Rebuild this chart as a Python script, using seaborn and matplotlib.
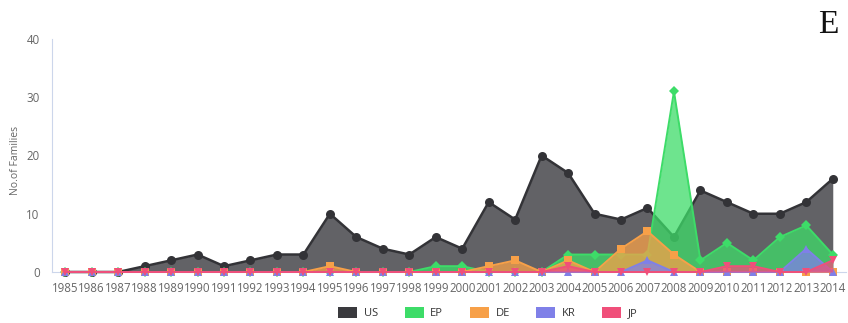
import matplotlib
matplotlib.use("Agg")
import matplotlib.pyplot as plt
from matplotlib.patches import Patch
import seaborn as sns
import pandas as pd

years = list(range(1985, 2015))
US = [0, 0, 0, 1, 2, 3, 1, 2, 3, 3, 10, 6, 4, 3, 6, 4, 12, 9, 20, 17, 10, 9, 11, 6, 14, 12, 10, 10, 12, 16]
EP = [0, 0, 0, 0, 0, 0, 0, 0, 0, 0, 0, 0, 0, 0, 1, 1, 0, 0, 0, 3, 3, 3, 3, 31, 2, 5, 2, 6, 8, 3]
DE = [0, 0, 0, 0, 0, 0, 0, 0, 0, 0, 1, 0, 0, 0, 0, 0, 1, 2, 0, 2, 0, 4, 7, 3, 0, 0, 0, 0, 0, 0]
KR = [0, 0, 0, 0, 0, 0, 0, 0, 0, 0, 0, 0, 0, 0, 0, 0, 0, 0, 0, 0, 0, 0, 2, 0, 0, 0, 0, 0, 4, 0]
JP = [0, 0, 0, 0, 0, 0, 0, 0, 0, 0, 0, 0, 0, 0, 0, 0, 0, 0, 0, 1, 0, 0, 0, 0, 0, 1, 1, 0, 0, 2]
series_names = ["US", "EP", "DE", "KR", "JP"]
series_values = [US, EP, DE, KR, JP]
y_ticks = [0, 10, 20, 30, 40]

colors = {"US": "#2e2e33", "EP": "#3ddc68", "DE": "#f7a048", "KR": "#7f80e8", "JP": "#f04f7a"}
line_colors = {"US": "#333337", "EP": "#3ddc68", "DE": "#f7a048", "KR": "#7f80e8", "JP": "#f04f7a"}
markers = {"US": "o", "EP": "D", "DE": "s", "KR": "^", "JP": "v"}

sns.set_style("white")
plt.rcParams["font.family"] = ["Open Sans", "DejaVu Sans"]

fig = plt.figure(figsize=(8.48, 3.23), dpi=100)
ax = fig.add_axes([52 / 848, (323 - 272) / 323, (846 - 52) / 848, (272 - 39) / 323])

df = pd.DataFrame({"year": years})
for i, name in enumerate(series_names):
    df[name] = series_values[i]

for i, name in enumerate(series_names):
    z = 2 + i * 2
    ax.fill_between(df["year"], 0, df[name], color=colors[name], alpha=0.75, lw=0, zorder=z)
    sns.lineplot(data=df, x="year", y=name, ax=ax, color=line_colors[name],
                 lw=1.8 if name == "US" else 1.4,
                 marker=markers[name], markersize=5.5 if name != "US" else 6.5,
                 markeredgewidth=0, zorder=z + 1, clip_on=False, legend=False)

ax.set_xlim(1984.5, 2014.5)
ax.set_ylim(0, 40)
ax.set_xticks(years)
ax.set_xticklabels([str(y) for y in years])
ax.set_yticks(y_ticks)
ax.set_yticklabels([str(v) for v in y_ticks])
ax.tick_params(axis="x", length=5, width=0.8, color="#ccd6eb", labelsize=8.3, labelcolor="#666666", pad=2)
ax.tick_params(axis="y", length=0, labelsize=8.3, labelcolor="#666666", pad=9)
for s in ["top", "right"]:
    ax.spines[s].set_visible(False)
ax.spines["left"].set_color("#ccd6eb")
ax.spines["bottom"].set_color("#ccd6eb")
ax.spines["left"].set_linewidth(0.8)
ax.spines["bottom"].set_linewidth(0.8)
ax.set_xlabel("")
ax.set_ylabel("")
ax.grid(False)

fig.text(15 / 848, 1 - 160 / 323, "No.of Families", fontsize=7.5, color="#666666",
         rotation=90, ha="center", va="center")

fig.text(828 / 848, 1 - 25 / 323, "E", family="Liberation Serif", fontsize=24,
         ha="center", va="center", color="#111111")

handles = [Patch(facecolor=colors[n] if n != "US" else "#3a3a3e", edgecolor="none", label=n) for n in series_names]
fig.legend(handles=handles, loc="center", bbox_to_anchor=(488 / 848, 1 - 313 / 323), ncol=5,
           frameon=False, fontsize=8, handlelength=1.7, handleheight=1.1, handletextpad=0.6,
           columnspacing=2.4, labelcolor="#333333")

fig.savefig("out.png", dpi=100)
